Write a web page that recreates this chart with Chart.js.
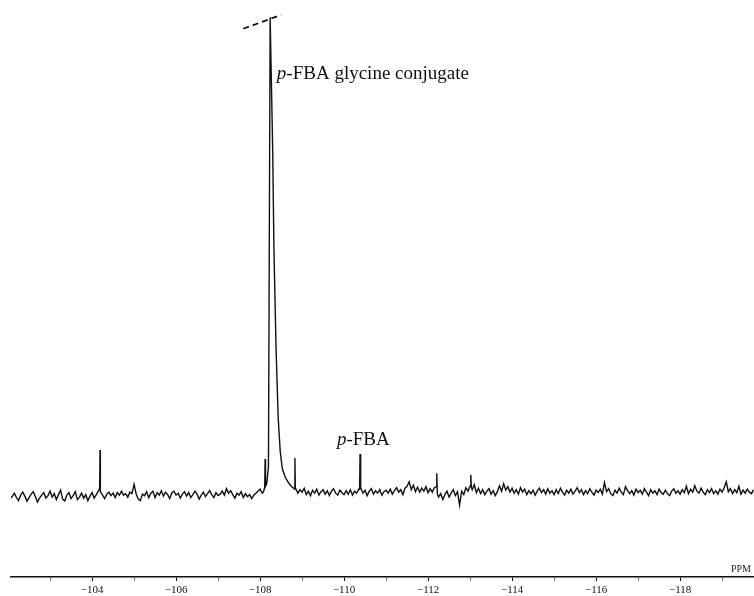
<!DOCTYPE html>
<html>
<head>
<meta charset="utf-8">
<script src="https://cdn.jsdelivr.net/npm/chart.js@4.4.0/dist/chart.umd.min.js"></script>
<style>
  html, body { margin: 0; padding: 0; background: #fff; }
  #wrap { width: 754px; height: 596px; }
</style>
</head>
<body>
<div id="wrap"><canvas id="spectrum"></canvas></div>
<script>
// 19F NMR trace, sampled every 0.05 ppm from -102.05 ppm
const ppmStart = -102.05;
const ppmStep = -0.05;
// null = covered by the main peak points below
const baseline = [
  -0.5, -0.1, 0.6, -0.3, -0.9, 0.2, 0.8, 0.0, -1.0, -0.3, 0.4, 0.9, -0.1, -1.2, -0.4, 0.2, 0.7, -0.4, 0.1, 1.0,
  -0.2, 0.5, -0.7, 0.3, 1.2, -0.6, -1.0, 0.2, 0.7, -0.5, 0.1, 0.9, -0.7, -0.2, 0.6, -0.4, 0.3, -0.9, 0.0, 0.7,
  -0.4, 0.3, 1.0, 0.9, 0.2, -0.5, 0.4, 0.8, 0.1, 0.6, -0.3, 0.7, 0.2, 1.0, 0.2, 0.5, -0.2, 0.8, 0.5, 2.4,
  0.4, -0.6, -0.9, 0.4, 0.1, 0.9, -0.3, 0.6, 1.0, -0.3, 0.7, 0.2, 1.1, 0.0, 0.8, 0.3, -0.5, 0.7, 1.0, 0.2,
  0.6, -0.4, 0.4, 0.9, 0.0, 0.7, -0.3, 0.3, 1.0, 0.4, -0.6, 0.2, 0.8, -0.1, 0.5, 1.1, 0.3, -0.3, 0.7, 0.1,
  0.4, 1.0, 0.2, 1.5, 0.6, 1.1, 0.3, -0.4, 0.6, 0.2, 0.9, -0.3, 0.5, -0.1, 0.3, -0.5, 0.2, 0.6, 1.0, 1.4,
  0.6, null, null, null, null, null, null, null, null, null, null, null, null, null, null, null, 1.5, 0.6, 1.3, 0.8,
  1.6, 0.3, 1.0, 0.1, 1.2, 0.6, 1.4, 0.2, 0.9, 1.3, 0.4, 1.1, 0.1, 1.0, 1.5, 0.6, 0.2, 1.2, 0.7, 0.3,
  1.1, 0.4, 1.3, 0.2, 1.0, 0.6, 1.4, 1.7, 0.6, 1.2, 0.1, 1.0, 1.5, 0.4, 1.1, 0.6, 1.3, 0.2, 0.9, 1.2,
  0.6, 1.4, 0.4, 1.1, 1.7, 0.8, 1.3, 0.3, 1.6, 2.0, 2.9, 1.3, 2.2, 0.9, 1.8, 0.8, 1.6, 1.0, 1.9, 0.7,
  1.5, 0.8, 1.7, 1.9, -0.2, 0.5, -0.7, 0.3, 1.0, -0.2, 0.6, 1.3, 0.1, 0.9, -1.8, 1.0, 0.3, 1.7, 1.0, 2.0,
  1.3, 2.3, 0.7, 1.6, 0.5, 1.3, 0.3, 1.0, 1.5, 0.4, 1.1, 0.1, 0.9, 2.1, 1.0, 2.5, 1.2, 1.9, 0.8, 1.6,
  0.6, 1.3, 0.4, 1.7, 0.8, 1.4, 0.3, 1.1, 0.5, 1.2, 0.2, 1.0, 1.6, 0.7, 1.3, 0.4, 1.5, 0.6, 1.1, 0.3,
  1.3, 0.5, 1.6, 0.8, 0.2, 1.2, 0.6, 1.4, 0.4, 1.0, 1.7, 0.7, 1.3, 0.3, 1.1, 0.5, 1.5, 0.8, 0.2, 1.2,
  0.7, 1.4, 0.4, 2.7, 0.9, 1.5, 0.5, 0.1, 1.2, 0.6, 1.6, 0.8, 0.3, 1.9, 1.1, 0.5, 1.1, 0.2, 1.4, 0.7,
  1.2, 0.4, 1.5, 0.8, 0.1, 1.3, 0.6, 1.1, 0.3, 1.4, 0.7, 0.4, 1.2, 0.5, 0.1, 1.0, 1.5, 0.6, 1.1, 0.4,
  1.3, 0.7, 2.0, 0.5, 1.4, 0.8, 2.1, 1.0, 0.6, 1.6, 0.8, 0.3, 1.3, 0.7, 1.5, 0.5, 1.1, 0.4, 1.4, 0.8,
  1.7, 2.9, 0.9, 1.5, 0.5, 1.3, 0.7, 2.0, 0.4, 1.2, 0.6, 1.4, 0.8, 0.5, 1.3
];

// narrow lines and the big glycine conjugate peak
const peakPpm = [
  -104.18, -104.19, -104.195,
  -108.08, -108.11, -108.12, -108.13, -108.16, -108.20, -108.24, -108.30, -108.33, -108.38,
  -108.43, -108.48, -108.53, -108.60, -108.67, -108.74, -108.80, -108.825, -108.83, -108.84,
  -110.37, -110.38, -110.39,
  -112.205, -112.21, -112.22,
  -113.015, -113.02, -113.03
];
const peakInt = [
  1.5, 9.3, 1.2,
  0.8, 1.8, 7.5, 2.0, 2.6, 6.0, 96.5, 70.0, 50.0, 30.0,
  16.0, 9.0, 5.5, 3.8, 2.8, 2.0, 1.6, 1.4, 7.7, 1.6,
  1.4, 8.5, 1.5,
  2.0, 4.6, 0.5,
  2.0, 4.3, 1.8
];

// off-scale marker over the top of the big peak
const cutPpm = [-107.60, -108.50];
const cutInt = [94.2, 97.0];

const xTicks = [-104, -106, -108, -110, -112, -114, -116, -118];

const spectrum = baseline
  .map((v, i) => ({ x: +(ppmStart + i * ppmStep).toFixed(3), y: v }))
  .filter(p => p.y !== null)
  .concat(peakPpm.map((p, i) => ({ x: p, y: peakInt[i] })))
  .sort((a, b) => b.x - a.x);

const labels = {
  id: 'labels',
  afterDraw(chart) {
    const { ctx, scales: { x, y } } = chart;
    const put = (ppm, val, rest, size) => {
      let px = x.getPixelForValue(ppm);
      const py = y.getPixelForValue(val);
      ctx.save();
      ctx.fillStyle = '#111';
      ctx.textBaseline = 'middle';
      ctx.font = 'italic ' + size + 'px "Liberation Serif"';
      ctx.fillText('p', px, py);
      px += ctx.measureText('p').width;
      ctx.font = size + 'px "Liberation Serif"';
      ctx.fillText(rest, px, py);
      ctx.restore();
    };
    put(-108.40, 85.1, '-FBA glycine conjugate', 19);
    put(-109.83, 11.3, '-FBA', 19);

    ctx.save();
    ctx.fillStyle = '#222';
    ctx.font = '10px "Liberation Serif"';
    ctx.textBaseline = 'bottom';
    ctx.fillText('PPM', 731, chart.chartArea.bottom - 3);
    ctx.restore();
  }
};

new Chart(document.getElementById('spectrum'), {
  type: 'line',
  data: {
    datasets: [{
      data: spectrum,
      borderColor: '#111',
      borderWidth: 1.4,
      pointRadius: 0,
      tension: 0
    }, {
      data: cutPpm.map((p, i) => ({ x: p, y: cutInt[i] })),
      borderColor: '#111',
      borderWidth: 1.8,
      borderDash: [6, 4],
      pointRadius: 0
    }]
  },
  options: {
    responsive: true,
    maintainAspectRatio: false,
    animation: false,
    layout: { padding: { left: 11, right: 0, top: 0, bottom: 0 } },
    scales: {
      x: {
        type: 'linear',
        reverse: true,
        min: -119.76,
        max: -102.07,
        afterFit: (axis) => { axis.height = 19; },
        ticks: {
          stepSize: 1,
          autoSkip: false,
          includeBounds: false,
          maxRotation: 0,
          padding: 4,
          color: '#111',
          font: { family: 'Liberation Serif', size: 11, lineHeight: 1 },
          callback: (v) => xTicks.includes(Math.round(v)) ? '\u2212' + Math.abs(Math.round(v)) : ''
        },
        grid: {
          drawOnChartArea: false,
          tickLength: 4,
          tickColor: (c) => xTicks.includes(Math.round(c.tick.value)) ? '#111' : '#777'
        },
        border: { color: '#111', width: 1.4 }
      },
      y: { display: false, min: -16.3, max: 100 }
    },
    plugins: {
      legend: { display: false },
      tooltip: { enabled: false }
    }
  },
  plugins: [labels]
});
</script>
</body>
</html>
